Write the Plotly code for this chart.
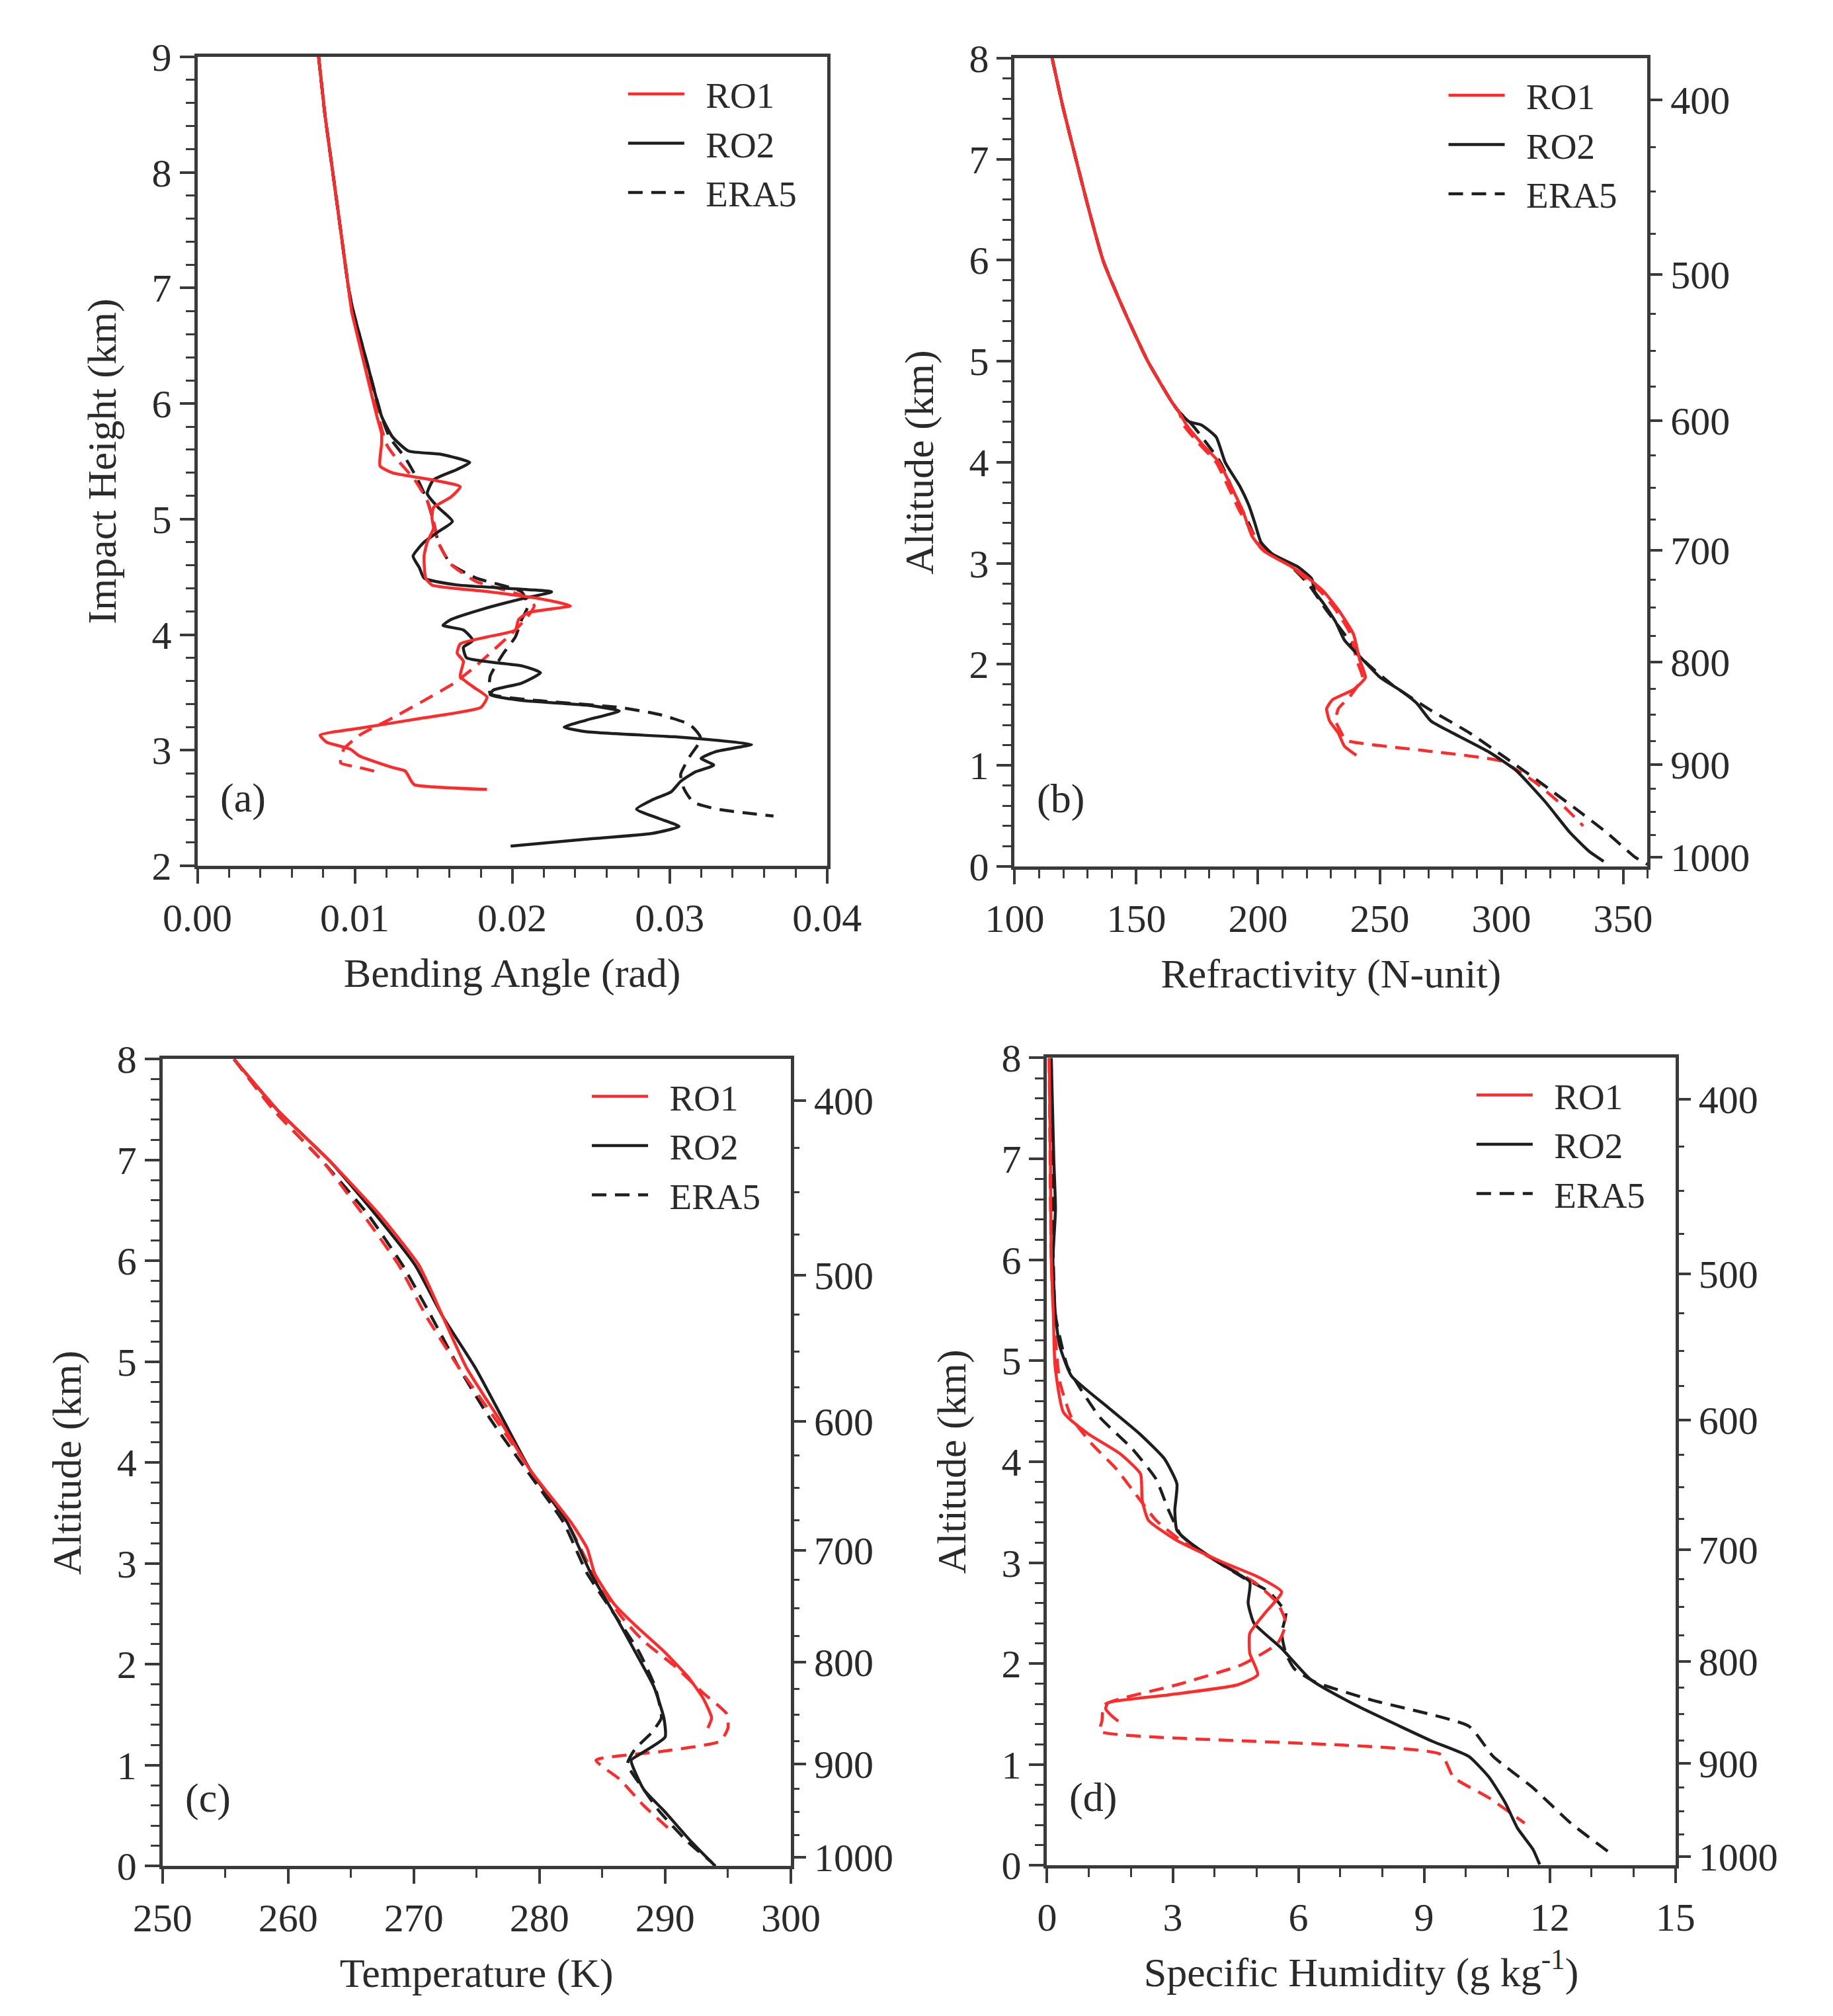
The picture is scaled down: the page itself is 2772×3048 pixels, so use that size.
import plotly.graph_objects as go

# ---------------- data ----------------
# Panel (a): bending angle (rad) vs impact height (km)
a_ro1_z = [9.0, 8.5, 8.0, 7.5, 7.0, 6.80, 6.34, 5.89, 5.74, 5.65, 5.46, 5.40, 5.34, 5.28, 5.19, 5.10, 5.01, 4.92,
           4.80, 4.68, 4.49, 4.43, 4.37, 4.31, 4.25, 4.19, 4.13, 4.04, 3.98, 3.92, 3.84, 3.77, 3.64, 3.55, 3.46,
           3.37, 3.28, 3.19, 3.13, 3.07, 3.01, 2.95, 2.85, 2.82, 2.73, 2.70, 2.66]
a_ro1_x = [0.0077, 0.0081, 0.0086, 0.0091, 0.0096, 0.0098, 0.0106, 0.0114, 0.0117, 0.0117, 0.0116, 0.0124, 0.0149,
           0.0167, 0.0161, 0.0150, 0.0149, 0.0150, 0.0146, 0.0144, 0.0145, 0.0149, 0.0186, 0.0218, 0.0237, 0.0210,
           0.0204, 0.0202, 0.0184, 0.0167, 0.0165, 0.0169, 0.0167, 0.0175, 0.0184, 0.0180, 0.0144, 0.0103, 0.0078,
           0.0082, 0.0097, 0.0103, 0.0124, 0.0132, 0.0136, 0.0138, 0.0184]

a_ro2_z = [9.0, 8.5, 8.0, 7.5, 7.0, 6.80, 6.34, 5.89, 5.71, 5.59, 5.56, 5.49, 5.43, 5.34, 5.22, 5.10, 4.98, 4.89,
           4.80, 4.68, 4.58, 4.49, 4.43, 4.37, 4.31, 4.22, 4.13, 4.08, 4.04, 3.95, 3.89, 3.80, 3.73, 3.67, 3.58,
           3.52, 3.48, 3.43, 3.39, 3.34, 3.26, 3.20, 3.16, 3.11, 3.05, 2.99, 2.93, 2.87, 2.81, 2.73, 2.64, 2.57,
           2.49, 2.41, 2.34, 2.28, 2.23, 2.17]
a_ro2_x = [0.0077, 0.0081, 0.0086, 0.0091, 0.0096, 0.0099, 0.0108, 0.0117, 0.0124, 0.0134, 0.0155, 0.0173, 0.0165,
           0.0150, 0.0146, 0.0153, 0.0162, 0.0153, 0.0144, 0.0137, 0.0141, 0.0144, 0.0165, 0.0225, 0.0206, 0.0181,
           0.0161, 0.0156, 0.0169, 0.0175, 0.0169, 0.0171, 0.0206, 0.0218, 0.0206, 0.0188, 0.0186, 0.0206, 0.0247,
           0.0268, 0.0247, 0.0233, 0.0247, 0.0309, 0.0352, 0.0330, 0.0320, 0.0328, 0.0316, 0.0307, 0.0301, 0.0289,
           0.0279, 0.0293, 0.0306, 0.0289, 0.0247, 0.0199]

a_era1_z = [9.0, 8.5, 8.0, 7.5, 7.0, 6.80, 6.34, 5.89, 5.65, 5.53, 5.34, 5.16, 4.98, 4.80, 4.61, 4.46, 4.34, 4.25,
            4.16, 4.04, 3.89, 3.73, 3.58, 3.43, 3.28, 3.13, 3.01, 2.89, 2.85, 2.81]
a_era1_x = [0.0077, 0.0081, 0.0086, 0.0091, 0.0096, 0.0098, 0.0107, 0.0115, 0.0120, 0.0126, 0.0138, 0.0146, 0.0150,
            0.0153, 0.0161, 0.0177, 0.0206, 0.0214, 0.0210, 0.0202, 0.0190, 0.0177, 0.0163, 0.0144, 0.0124, 0.0103,
            0.0093, 0.0091, 0.0103, 0.0115]

a_era2_z = [9.0, 8.5, 8.0, 7.5, 7.0, 6.80, 6.34, 5.89, 5.71, 5.53, 5.34, 5.16, 4.98, 4.80, 4.61, 4.49, 4.37, 4.25,
            4.13, 3.98, 3.83, 3.64, 3.49, 3.43, 3.37, 3.31, 3.22, 3.10, 2.95, 2.79, 2.67, 2.55, 2.49, 2.43]
a_era2_x = [0.0077, 0.0081, 0.0086, 0.0091, 0.0096, 0.0099, 0.0108, 0.0117, 0.0122, 0.0132, 0.0140, 0.0146, 0.0150,
            0.0153, 0.0161, 0.0177, 0.0206, 0.0210, 0.0206, 0.0202, 0.0194, 0.0186, 0.0186, 0.0216, 0.0268, 0.0293,
            0.0313, 0.0320, 0.0313, 0.0307, 0.0309, 0.0315, 0.0330, 0.0366]

# Panel (b): refractivity (N-unit) vs altitude (km)
b_top_z = [8.0, 7.5, 7.0, 6.5, 6.0, 5.5, 5.0, 4.6, 4.5]
b_top_x = [115.4, 120.0, 125.2, 130.5, 136.3, 145.0, 154.7, 164.5, 167.5]

b_ro1_z = b_top_z + [4.37, 4.19, 4.0, 3.76, 3.51, 3.27, 3.12, 2.97, 2.85, 2.72, 2.54, 2.3, 2.05, 1.87, 1.75,
                     1.65, 1.56, 1.44, 1.32, 1.19, 1.10]
b_ro1_x = b_top_x + [170.6, 176.7, 184.0, 189.0, 193.9, 197.5, 202.5, 213.5, 220.8, 227.0, 233.0, 239.2, 241.7,
                     244.1, 239.2, 230.6, 228.2, 229.4, 233.0, 235.5, 240.4]

b_ro2_z = b_top_z + [4.4, 4.37, 4.25, 4.0, 3.76, 3.57, 3.39, 3.21, 3.09, 2.97, 2.85, 2.72, 2.6, 2.42, 2.24, 2.05,
                     1.87, 1.75, 1.62, 1.44, 1.32, 1.13, 0.95, 0.64, 0.34, 0.15, 0.05]
b_ro2_x = b_top_x + [171.8, 176.7, 182.8, 186.5, 192.6, 196.3, 198.8, 201.2, 206.0, 216.0, 222.0, 223.3, 227.0,
                     231.9, 235.5, 242.9, 250.2, 258.0, 265.0, 271.0, 280.0, 295.0, 306.0, 318.0, 328.0, 336.0, 342.0]

b_era1_z = b_top_z + [4.37, 4.19, 4.0, 3.76, 3.51, 3.27, 3.12, 2.97, 2.85, 2.72, 2.54, 2.3, 2.05, 1.87, 1.69,
                      1.56, 1.44, 1.32, 1.25, 1.15, 1.04, 0.83, 0.58, 0.40]
b_era1_x = b_top_x + [169.4, 175.5, 182.8, 187.7, 192.6, 198.8, 203.7, 213.5, 219.5, 225.7, 231.9, 238.0, 240.4,
                      242.9, 238.0, 233.0, 231.9, 234.3, 236.0, 267.0, 300.0, 314.0, 326.2, 333.6]

b_era2_z = b_top_z + [4.37, 4.0, 3.64, 3.39, 3.15, 2.97, 2.79, 2.54, 2.3, 2.05, 1.8, 1.56, 1.32, 1.07, 0.83,
                      0.58, 0.34, 0.09, 0.02]
b_era2_x = b_top_x + [173.0, 184.5, 191.2, 196.3, 201.2, 213.5, 220.8, 228.0, 235.5, 243.0, 255.0, 270.0, 287.0,
                      302.0, 316.0, 330.0, 343.0, 355.0, 360.0]

# Panel (c): temperature (K) vs altitude (km)
c_ro1_z = [8.0, 7.49, 6.98, 6.47, 5.96, 5.45, 4.94, 4.43, 3.92, 3.41, 3.15, 2.90, 2.59, 2.39, 2.13, 1.88, 1.67,
           1.47, 1.37]
c_ro1_x = [255.7, 259.2, 263.4, 267.2, 270.4, 272.3, 274.2, 276.8, 279.3, 282.5, 283.8, 284.4, 286.0, 287.6,
           289.9, 291.8, 293.0, 293.7, 293.4]

c_ro2_z = [8.0, 7.49, 6.98, 6.47, 5.96, 5.45, 4.94, 4.43, 3.92, 3.41, 2.90, 2.49, 2.13, 1.78, 1.47, 1.28, 1.11,
           1.05, 0.76, 0.55, 0.24, 0.0]
c_ro2_x = [255.7, 259.2, 263.4, 266.9, 270.1, 272.3, 274.9, 277.1, 279.3, 282.2, 284.1, 286.0, 287.6, 289.1,
           289.9, 290.0, 288.0, 287.3, 288.3, 289.9, 292.1, 294.0]

c_era1_z = [8.0, 7.49, 6.98, 6.47, 5.96, 5.45, 4.94, 4.43, 3.92, 3.41, 2.90, 2.49, 2.23, 1.98, 1.72, 1.51, 1.37,
            1.24, 1.14, 1.05, 0.86, 0.60, 0.36]
c_era1_x = [255.7, 258.9, 262.8, 265.9, 268.8, 271.0, 273.6, 276.5, 279.3, 282.2, 284.3, 286.4, 288.3, 290.8,
            293.0, 294.9, 295.0, 294.4, 289.9, 284.5, 286.4, 288.3, 290.4]

c_era2_z = [8.0, 7.49, 6.98, 6.47, 5.96, 5.45, 4.94, 4.43, 3.92, 3.41, 2.90, 2.49, 2.13, 1.78, 1.47, 1.32, 1.16,
            1.01, 0.76, 0.55, 0.24, 0.04]
c_era2_x = [255.7, 258.9, 262.8, 266.3, 269.1, 271.4, 273.6, 276.1, 279.0, 281.9, 283.8, 286.0, 287.9, 289.2,
            289.7, 288.9, 287.6, 287.0, 288.3, 289.5, 291.8, 293.7]

# Panel (d): specific humidity (g/kg) vs altitude (km)
d_ro1_z = [8.0, 7.0, 6.0, 5.45, 4.95, 4.49, 4.28, 4.08, 3.88, 3.62, 3.42, 3.22, 3.01, 2.86, 2.71, 2.5, 2.3, 2.1,
           1.89, 1.79, 1.69, 1.61, 1.55, 1.48, 1.43]
d_ro1_x = [0.05, 0.08, 0.1, 0.15, 0.19, 0.39, 0.97, 1.74, 2.23, 2.27, 2.42, 3.1, 4.16, 5.03, 5.6, 5.2, 4.84, 4.84,
           5.03, 4.55, 2.9, 1.45, 1.4, 1.55, 1.7]

d_ro2_z = [8.0, 7.0, 6.5, 6.0, 5.45, 5.15, 4.85, 4.54, 4.28, 4.03, 3.78, 3.52, 3.32, 3.17, 2.96, 2.81, 2.6, 2.4,
           2.15, 1.84, 1.59, 1.38, 1.23, 1.08, 0.875, 0.62, 0.37, 0.16, 0.01]
d_ro2_x = [0.1, 0.16, 0.2, 0.14, 0.2, 0.3, 0.58, 1.45, 2.2, 2.8, 3.1, 3.05, 3.1, 3.5, 4.26, 4.84, 4.8, 4.94, 5.6,
           6.3, 7.36, 8.42, 9.2, 10.07, 10.55, 10.94, 11.23, 11.6, 11.76]

d_era1_z = [8.0, 6.0, 5.5, 4.8, 4.44, 4.18, 3.93, 3.67, 3.42, 3.22, 3.01, 2.81, 2.6, 2.4, 2.2, 1.99, 1.79, 1.59,
            1.43, 1.33, 1.10, 0.875, 0.67, 0.42]
d_era1_x = [0.05, 0.1, 0.15, 0.3, 0.58, 1.06, 1.65, 2.13, 2.6, 3.2, 4.07, 4.94, 5.5, 5.7, 5.5, 4.65, 3.1, 1.36,
            1.31, 1.26, 9.4, 9.7, 10.55, 11.4]

d_era2_z = [8.0, 6.0, 5.45, 4.95, 4.74, 4.44, 4.13, 3.83, 3.52, 3.27, 3.06, 2.86, 2.71, 2.5, 2.3, 2.1, 1.95, 1.82,
            1.64, 1.38, 1.08, 0.77, 0.42, 0.09]
d_era2_x = [0.1, 0.15, 0.2, 0.48, 0.77, 1.26, 2.03, 2.6, 2.9, 3.2, 3.87, 4.65, 5.3, 5.7, 5.6, 5.7, 5.9, 6.39,
            7.74, 10.07, 10.65, 11.6, 12.5, 13.55]

# Pressure axis (hPa) labels and their altitude positions (km)
p_labels = ["400", "500", "600", "700", "800", "900", "1000"]
p_alt = [7.59, 5.86, 4.41, 3.13, 2.02, 1.01, 0.09]
p_minor_alt = [7.12, 6.68, 6.26, 5.47, 5.10, 4.75, 4.07, 3.75, 3.43, 2.84, 2.56, 2.28,
               1.76, 1.50, 1.24, 0.77, 0.54, 0.31]

series_names = ["RO1", "RO2", "ERA5"]
panel_tags = ["(a)", "(b)", "(c)", "(d)"]

# ---------------- layout / style ----------------
W, H = 2772, 3048
FONT = "Liberation Serif, Times New Roman, serif"
RED = "#ff2b2b"
BLACK = "#1e1e1e"
AX = "#3a3a3a"
TXT = "#2a2a2a"
GAP = "\u00a0\u00a0"  # gap between legend line and legend text

# plot boxes in pixels: left, right, top, bottom
boxes = {
    "a": (247, 1237, 47, 1297),
    "b": (1532, 2527, 49, 1298),
    "c": (192, 1180, 1596, 2843),
    "d": (1583, 2571, 1594, 2842),
}


def dom(box):
    l, r, t, b = box
    return [l / W, r / W], [1 - b / H, 1 - t / H]


fig = go.Figure()


def add_panel(xa, ya, leg, ro1, ro2, era1, era2):
    common = dict(xaxis=xa, yaxis=ya, mode="lines", hoverinfo="skip", legend=leg)
    lw = 4.5
    fig.add_trace(go.Scatter(x=era2[0], y=era2[1], name=GAP + series_names[2], legendrank=3,
                             line=dict(color=BLACK, width=lw, dash="22px,13px", shape="spline", smoothing=0.5),
                             **common))
    fig.add_trace(go.Scatter(x=era1[0], y=era1[1], name=GAP + series_names[2] + " ", showlegend=False,
                             line=dict(color=RED, width=lw, dash="22px,13px", shape="spline", smoothing=0.5),
                             **common))
    fig.add_trace(go.Scatter(x=ro2[0], y=ro2[1], name=GAP + series_names[1], legendrank=2,
                             line=dict(color=BLACK, width=lw, shape="spline", smoothing=0.5), **common))
    fig.add_trace(go.Scatter(x=ro1[0], y=ro1[1], name=GAP + series_names[0], legendrank=1,
                             line=dict(color=RED, width=lw, shape="spline", smoothing=0.5), **common))


add_panel("x", "y", "legend", (a_ro1_x, a_ro1_z), (a_ro2_x, a_ro2_z), (a_era1_x, a_era1_z), (a_era2_x, a_era2_z))
add_panel("x2", "y2", "legend2", (b_ro1_x, b_ro1_z), (b_ro2_x, b_ro2_z), (b_era1_x, b_era1_z), (b_era2_x, b_era2_z))
add_panel("x3", "y3", "legend3", (c_ro1_x, c_ro1_z), (c_ro2_x, c_ro2_z), (c_era1_x, c_era1_z), (c_era2_x, c_era2_z))
add_panel("x4", "y4", "legend4", (d_ro1_x, d_ro1_z), (d_ro2_x, d_ro2_z), (d_era1_x, d_era1_z), (d_era2_x, d_era2_z))

# placeholder traces so the pressure axes exist
for xa, ya in (("x2", "y5"), ("x3", "y6"), ("x4", "y7")):
    fig.add_trace(go.Scatter(x=[None], y=[None], xaxis=xa, yaxis=ya, showlegend=False, hoverinfo="skip"))

tickfont = dict(family=FONT, size=60, color=TXT)
titlefont = dict(family=FONT, size=62, color=TXT)


def base_axis(**kw):
    d = dict(showline=True, linewidth=5, linecolor=AX, mirror=True, ticks="outside", ticklen=22, tickwidth=4,
             tickcolor=AX, showgrid=False, zeroline=False, tickfont=tickfont, fixedrange=True)
    d.update(kw)
    return d


def minor(dt):
    return dict(ticks="outside", ticklen=13, tickwidth=3, tickcolor=AX, dtick=dt, showgrid=False)


layout = dict(width=W, height=H, margin=dict(l=0, r=0, t=0, b=0), paper_bgcolor="white", plot_bgcolor="white",
              font=dict(family=FONT, color=TXT), showlegend=True)

xa_dom, ya_dom = dom(boxes["a"])
layout["xaxis"] = base_axis(domain=xa_dom, anchor="y", range=[0, 0.04], dtick=0.01, tick0=0, tickformat=".2f",
                            minor=minor(0.002), title=dict(text="Bending Angle (rad)", font=titlefont, standoff=30))
layout["yaxis"] = base_axis(domain=ya_dom, anchor="x", range=[2, 9], dtick=1, tick0=0, minor=minor(0.2),
                            title=dict(text="Impact Height (km)", font=titlefont, standoff=35))

xb_dom, yb_dom = dom(boxes["b"])
layout["xaxis2"] = base_axis(domain=xb_dom, anchor="y2", range=[100, 360], dtick=50, tick0=0, minor=minor(10),
                             title=dict(text="Refractivity (N-unit)", font=titlefont, standoff=30))
layout["yaxis2"] = base_axis(domain=yb_dom, anchor="x2", range=[0, 8], dtick=1, tick0=0, minor=minor(0.2),
                             title=dict(text="Altitude (km)", font=titlefont, standoff=35))

xc_dom, yc_dom = dom(boxes["c"])
layout["xaxis3"] = base_axis(domain=xc_dom, anchor="y3", range=[250, 300], dtick=10, tick0=0, minor=minor(5),
                             title=dict(text="Temperature (K)", font=titlefont, standoff=30))
layout["yaxis3"] = base_axis(domain=yc_dom, anchor="x3", range=[0, 8], dtick=1, tick0=0, minor=minor(0.2),
                             title=dict(text="Altitude (km)", font=titlefont, standoff=35))

xd_dom, yd_dom = dom(boxes["d"])
layout["xaxis4"] = base_axis(domain=xd_dom, anchor="y4", range=[0, 15], dtick=3, tick0=0, minor=minor(1),
                             title=dict(text="Specific Humidity (g kg<sup>-1</sup>)", font=titlefont, standoff=30))
layout["yaxis4"] = base_axis(domain=yd_dom, anchor="x4", range=[0, 8], dtick=1, tick0=0, minor=minor(0.2),
                             title=dict(text="Altitude (km)", font=titlefont, standoff=35))


def p_axis(over, xa):
    return dict(overlaying=over, anchor=xa, side="right", range=[0, 8], tickmode="array", tickvals=p_alt,
                ticktext=p_labels, ticks="outside", ticklen=22, tickwidth=4, tickcolor=AX, showline=False,
                showgrid=False, zeroline=False, tickfont=tickfont, fixedrange=True,
                minor=dict(tickmode="array", tickvals=p_minor_alt, ticks="outside", ticklen=12, tickwidth=3,
                           tickcolor=AX, showgrid=False))


layout["yaxis5"] = p_axis("y2", "x2")
layout["yaxis6"] = p_axis("y3", "x3")
layout["yaxis7"] = p_axis("y4", "x4")

# legends: one per panel, in the upper right of each box
legfont = dict(family=FONT, size=55, color=TXT)
for key, name in (("a", "legend"), ("b", "legend2"), ("c", "legend3"), ("d", "legend4")):
    l, r, t, b = boxes[key]
    layout[name] = dict(x=(r - 318) / W, y=1 - (t + 14) / H, xanchor="left", yanchor="top", bgcolor="rgba(0,0,0,0)",
                        font=legfont, itemwidth=85, tracegroupgap=0, traceorder="normal")

# panel tags
annotations = []
for key, tag in zip(("a", "b", "c", "d"), panel_tags):
    l, r, t, b = boxes[key]
    annotations.append(dict(text=tag, xref="paper", yref="paper", x=(l + 72) / W, y=1 - (b - 105) / H,
                            xanchor="center", yanchor="middle", showarrow=False,
                            font=dict(family=FONT, size=62, color=TXT)))
layout["annotations"] = annotations

fig.update_layout(**layout)
fig.write_html("out.html", config={"displayModeBar": False})
